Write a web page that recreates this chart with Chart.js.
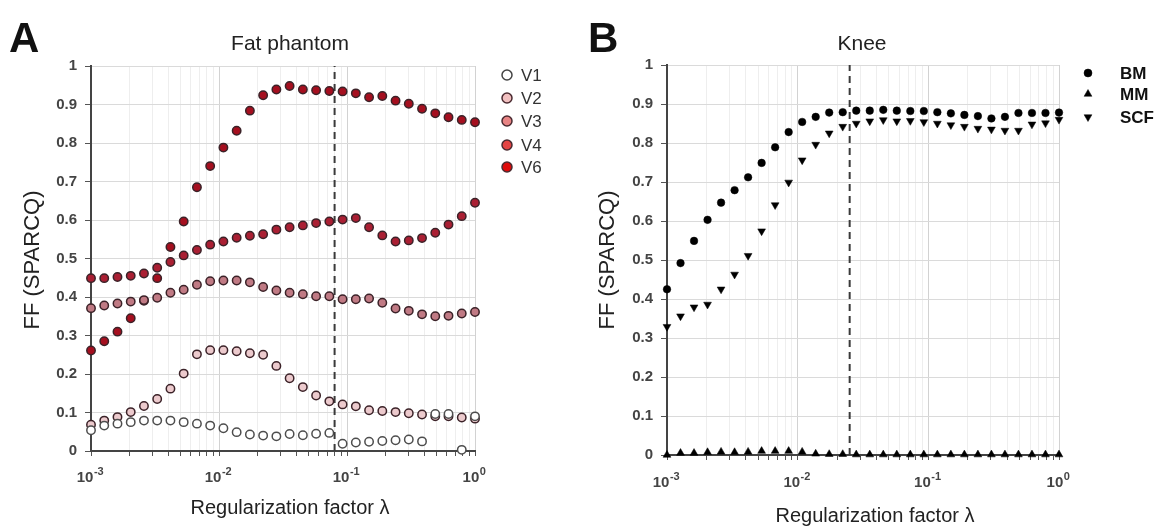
<!DOCTYPE html>
<html>
<head>
<meta charset="utf-8">
<script src="https://cdn.jsdelivr.net/npm/chart.js@4.4.1/dist/chart.umd.min.js"></script>
<style>
  body { margin: 0; background: #fff; width: 1158px; height: 526px; overflow: hidden; position: relative; }
  canvas { position: absolute; top: 0; }
  #fat { left: 0; }
  #knee { left: 579px; }
</style>
</head>
<body>
<canvas id="fat" width="579" height="526" style="width:579px;height:526px"></canvas>
<canvas id="knee" width="579" height="526" style="width:579px;height:526px"></canvas>
<script>
// regularization factor (30 steps, 1e-3 .. 1)
var lambda = [0.001, 0.001269, 0.0016103, 0.0020434, 0.0025929, 0.0032903, 0.0041753, 0.0052983,
  0.0067234, 0.0085317, 0.010826, 0.013738, 0.017433, 0.022122, 0.028072, 0.035622, 0.045204,
  0.057362, 0.07279, 0.092367, 0.11721, 0.14874, 0.18874, 0.2395, 0.30392, 0.38566, 0.48939,
  0.62102, 0.78805, 1];

// fat phantom vials
var v1 = [0.054, 0.066, 0.071, 0.075, 0.079, 0.079, 0.079, 0.075, 0.071, 0.066, 0.059, 0.049, 0.043, 0.040, 0.038,
  0.044, 0.041, 0.045, 0.047, 0.019, 0.022, 0.024, 0.026, 0.028, 0.030, 0.025, 0.096, 0.096, 0.003, 0.090];
var v2 = [0.068, 0.079, 0.088, 0.101, 0.117, 0.135, 0.162, 0.201, 0.251, 0.262, 0.262, 0.259, 0.254, 0.250, 0.221,
  0.189, 0.166, 0.144, 0.129, 0.121, 0.116, 0.106, 0.104, 0.101, 0.098, 0.095, 0.090, 0.090, 0.087, 0.084];
var v3 = [0.371, 0.378, 0.383, 0.388, 0.392, 0.398, 0.411, 0.419, 0.432, 0.441, 0.443, 0.443, 0.438, 0.426, 0.417,
  0.411, 0.407, 0.402, 0.402, 0.394, 0.394, 0.396, 0.385, 0.370, 0.364, 0.355, 0.350, 0.351, 0.357, 0.361];
var v4 = [0.449, 0.449, 0.452, 0.455, 0.461, 0.476, 0.491, 0.508, 0.522, 0.536, 0.544, 0.554, 0.559, 0.563, 0.575,
  0.581, 0.586, 0.592, 0.596, 0.601, 0.605, 0.581, 0.560, 0.544, 0.547, 0.553, 0.567, 0.588, 0.610, 0.645];
var v6 = [0.261, 0.285, 0.310, 0.345, 0.390, 0.449, 0.530, 0.596, 0.685, 0.740, 0.788, 0.832, 0.884, 0.924, 0.939,
  0.948, 0.939, 0.937, 0.935, 0.934, 0.929, 0.919, 0.922, 0.910, 0.902, 0.889, 0.877, 0.867, 0.860, 0.854];

// knee tissues
var bm = [0.425, 0.492, 0.549, 0.603, 0.647, 0.679, 0.712, 0.749, 0.789, 0.828, 0.854, 0.867, 0.878, 0.879, 0.883,
  0.883, 0.885, 0.883, 0.882, 0.882, 0.879, 0.876, 0.872, 0.869, 0.863, 0.867, 0.877, 0.877, 0.877, 0.878];
var mm = [0.000, 0.005, 0.005, 0.007, 0.008, 0.007, 0.008, 0.010, 0.010, 0.010, 0.008, 0.003, 0.002, 0.002, 0.001,
  0.001, 0.001, 0.001, 0.001, 0.001, 0.001, 0.001, 0.001, 0.001, 0.001, 0.001, 0.001, 0.001, 0.001, 0.001];
var scf = [0.329, 0.356, 0.379, 0.386, 0.425, 0.463, 0.511, 0.574, 0.641, 0.699, 0.756, 0.796, 0.825, 0.842, 0.850,
  0.856, 0.859, 0.856, 0.857, 0.854, 0.850, 0.846, 0.842, 0.837, 0.835, 0.832, 0.832, 0.848, 0.851, 0.860];

// chosen lambda (dashed lines)
var fatCut = 0.08;
var kneeCut = 0.025;

var xTickValues = [0.001, 0.002, 0.003, 0.004, 0.005, 0.006, 0.007, 0.008, 0.009,
  0.01, 0.02, 0.03, 0.04, 0.05, 0.06, 0.07, 0.08, 0.09,
  0.1, 0.2, 0.3, 0.4, 0.5, 0.6, 0.7, 0.8, 0.9, 1];
var xDecades = [0.001, 0.01, 0.1, 1];
var xExponents = ['-3', '-2', '-1', '0'];

var fatNames = ['V1', 'V2', 'V3', 'V4', 'V6'];
var fatPointColors = ['#ffffff', '#eccacd', '#c07a84', '#aa1f33', '#a50f1f'];
var fatLegendColors = ['#ffffff', '#f2c0c0', '#e88484', '#e44444', '#de0a0a'];
var kneeNames = ['BM', 'MM', 'SCF'];

var FONT = 'Arial, "Liberation Sans", sans-serif';

function pts(ys) {
	return ys.map(function (y, i) { return { x: lambda[i], y: y }; });
}

function cutLine(x) {
	return { type: 'line', data: [{ x: x, y: 0 }, { x: x, y: 1 }], borderColor: '#3a3a3a', borderWidth: 2,
		borderDash: [7, 5], pointRadius: 0, order: 5, clip: false };
}

var panelText = {
	id: 'panelText',
	afterDraw: function (chart, args, o) {
		var ctx = chart.ctx;
		var xs = chart.scales.x;
		ctx.save();
		ctx.fillStyle = '#111';
		ctx.textBaseline = 'alphabetic';
		ctx.textAlign = 'left';
		ctx.font = 'bold 42px ' + FONT;
		ctx.fillText(o.letter, o.letterX, 52);

		ctx.fillStyle = '#222';
		ctx.textAlign = 'center';
		ctx.font = '21px ' + FONT;
		ctx.fillText(o.title, o.titleX, 50);

		// decade labels 10^n on the log axis
		xDecades.forEach(function (v, i) {
			var px = xs.getPixelForValue(v);
			var base = chart.chartArea.bottom + o.tickBaseline;
			ctx.font = 'bold 15px ' + FONT;
			var w1 = ctx.measureText('10').width;
			ctx.font = 'bold 11px ' + FONT;
			var w2 = ctx.measureText(xExponents[i]).width;
			var left = px - (w1 + w2) / 2 - 1;
			ctx.fillStyle = '#444';
			ctx.textAlign = 'left';
			ctx.font = 'bold 15px ' + FONT;
			ctx.fillText('10', left, base);
			ctx.font = 'bold 11px ' + FONT;
			ctx.fillText(xExponents[i], left + w1 + 0.5, base - 7);
		});

		ctx.fillStyle = '#222';
		ctx.textAlign = 'center';
		ctx.textBaseline = 'middle';
		ctx.font = '20px ' + FONT;
		ctx.fillText('Regularization factor \u03BB', o.xTitleX, o.xTitleY);

		ctx.save();
		ctx.translate(o.yTitleX, 260);
		ctx.rotate(-Math.PI / 2);
		ctx.font = '22px ' + FONT;
		ctx.fillText('FF (SPARCQ)', 0, 0);
		ctx.restore();

		o.legend.forEach(function (it, i) {
			var y = o.legendY[i];
			ctx.fillStyle = it.fill;
			ctx.strokeStyle = it.stroke;
			ctx.lineWidth = it.borderWidth;
			Chart.helpers.drawPoint(ctx, { pointStyle: it.style, radius: it.radius, rotation: it.rotation || 0,
				borderWidth: it.borderWidth }, o.legendX, y);
			ctx.fillStyle = o.legendTextColor;
			ctx.textAlign = 'left';
			ctx.font = o.legendFont;
			ctx.fillText(it.name, o.legendTextX, y + 1);
		});
		ctx.restore();
	}
};

function scales(yWidth, xHeight) {
	return {
		x: {
			type: 'logarithmic', min: 0.001, max: 1,
			afterBuildTicks: function (s) { s.ticks = xTickValues.map(function (v) { return { value: v }; }); },
			afterFit: function (s) { s.height = xHeight; },
			ticks: { autoSkip: false, maxRotation: 0, callback: function () { return ''; } },
			grid: { color: function (c) { return c.tick && xDecades.indexOf(c.tick.value) >= 0 ? '#d2d2d2' : '#eeeeee'; },
				tickColor: '#555', tickLength: 5, lineWidth: 1 },
			border: { color: '#444', width: 2 }
		},
		y: {
			min: 0, max: 1,
			afterFit: function (s) { s.width = yWidth; },
			ticks: { stepSize: 0.1, padding: 8, color: '#444', font: { family: FONT, size: 15, weight: 'bold' },
				callback: function (v) { return String(Math.round(v * 10) / 10); } },
			grid: { color: '#dadada', tickColor: '#555', tickLength: 6, lineWidth: 1 },
			border: { color: '#444', width: 2 }
		}
	};
}

function fatChart() {
	var series = [v1, v2, v3, v4, v6];
	var datasets = series.map(function (s, i) {
		return { label: fatNames[i], data: pts(s), pointRadius: 4.2, pointBackgroundColor: fatPointColors[i],
			pointBorderColor: i == 0 ? '#4d4d4d' : '#3b2228', pointBorderWidth: 1.5, clip: false };
	});
	datasets.push(cutLine(fatCut));
	new Chart(document.getElementById('fat'), {
		type: 'scatter',
		data: { datasets: datasets },
		options: {
			responsive: false, animation: false, events: [],
			layout: { padding: { left: 0, top: 66, right: 104, bottom: 0 } },
			scales: scales(91, 75),
			plugins: {
				legend: { display: false }, tooltip: { enabled: false },
				panelText: {
					letter: 'A', letterX: 9, title: 'Fat phantom', titleX: 290, tickBaseline: 31,
					xTitleX: 290, xTitleY: 508, yTitleX: 33,
					legendX: 507, legendTextX: 521, legendY: [75, 98, 121, 145, 167],
					legendFont: '17px ' + FONT, legendTextColor: '#333',
					legend: fatNames.map(function (n, i) {
						return { name: n, fill: fatLegendColors[i], stroke: i == 0 ? '#444' : '#4a2a30',
							style: 'circle', radius: 5, borderWidth: 1.5 };
					})
				}
			}
		},
		plugins: [panelText]
	});
}

function kneeChart() {
	var datasets = [
		{ label: 'BM', data: pts(bm), pointStyle: 'circle', pointRadius: 3.8 },
		{ label: 'MM', data: pts(mm), pointStyle: 'triangle', pointRadius: 4.5 },
		{ label: 'SCF', data: pts(scf), pointStyle: 'triangle', pointRotation: 180, pointRadius: 4.5 }
	].map(function (d) {
		d.pointBackgroundColor = '#000'; d.pointBorderColor = '#000'; d.pointBorderWidth = 0.5; d.clip = false;
		return d;
	});
	datasets.push(cutLine(kneeCut));
	new Chart(document.getElementById('knee'), {
		type: 'scatter',
		data: { datasets: datasets },
		options: {
			responsive: false, animation: false, events: [],
			layout: { padding: { left: 0, top: 65, right: 99, bottom: 0 } },
			scales: scales(88, 71),
			plugins: {
				legend: { display: false }, tooltip: { enabled: false },
				panelText: {
					letter: 'B', letterX: 9, title: 'Knee', titleX: 283, tickBaseline: 32,
					xTitleX: 296, xTitleY: 516, yTitleX: 29,
					legendX: 509, legendTextX: 541, legendY: [73, 94, 117],
					legendFont: 'bold 17px ' + FONT, legendTextColor: '#111',
					legend: [
						{ name: 'BM', fill: '#000', stroke: '#000', style: 'circle', radius: 4, borderWidth: 0.5 },
						{ name: 'MM', fill: '#000', stroke: '#000', style: 'triangle', radius: 4.5, borderWidth: 0.5 },
						{ name: 'SCF', fill: '#000', stroke: '#000', style: 'triangle', rotation: 180, radius: 4.5, borderWidth: 0.5 }
					]
				}
			}
		},
		plugins: [panelText]
	});
}

window.onload = function () {
	fatChart();
	kneeChart();
};
</script>
</body>
</html>
